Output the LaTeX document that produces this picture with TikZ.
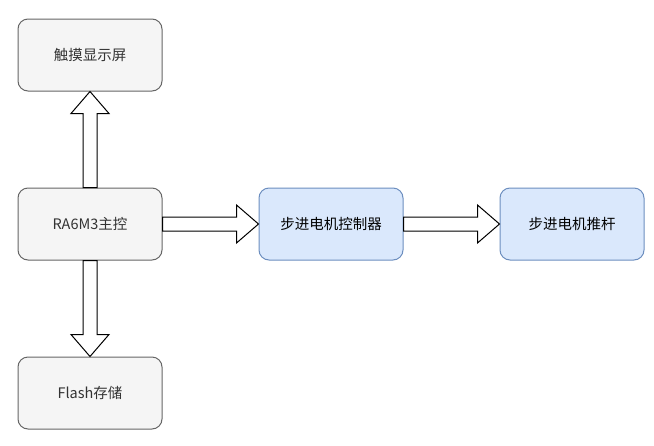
\documentclass[tikz,border=0pt]{standalone}
\usepackage{fontspec}
\setmainfont{Noto Sans CJK SC}
\usetikzlibrary{positioning,calc}

\definecolor{boxgrey}{HTML}{F5F5F5}
\definecolor{linegrey}{HTML}{666666}
\definecolor{textgrey}{HTML}{333333}
\definecolor{boxblue}{HTML}{DAE8FC}
\definecolor{lineblue}{HTML}{6C8EBF}

\tikzset{
  unit/.style={rounded corners=10pt,minimum width=144pt,minimum height=72pt,inner sep=0pt,line width=1pt,font=\fontsize{14.5pt}{17pt}\selectfont},
  greybox/.style={unit,draw=linegrey,fill=boxgrey,text=textgrey},
  bluebox/.style={unit,draw=lineblue,fill=boxblue,text=black},
  blockline/.style={draw=black,fill=white,line width=1pt,line join=miter}
}

% hollow block arrow from #1 to #2
\newcommand{\blockarr}[2]{%
  \path (#1) coordinate (ba-s) (#2) coordinate (ba-t);
  \path ($(ba-t)!22pt!(ba-s)$) coordinate (ba-b);
  \draw[blockline] ($(ba-s)!7pt!90:(ba-t)$) -- ($(ba-b)!7pt!90:(ba-t)$)
    -- ($(ba-b)!19pt!90:(ba-t)$) -- (ba-t) -- ($(ba-b)!19pt!-90:(ba-t)$)
    -- ($(ba-b)!7pt!-90:(ba-t)$) -- ($(ba-s)!7pt!-90:(ba-t)$) -- cycle;
}

\begin{document}
\begin{tikzpicture}[x=1pt,y=1pt,node distance=96pt]
\useasboundingbox (0,-445) rectangle (654,0);

\node[greybox] (mcu) at (90,-224) {RA6M3主控};
\node[greybox,above=of mcu] (touch) {触摸显示屏};
\node[greybox,below=of mcu] (flash) {Flash存储};
\node[bluebox,right=of mcu] (driver) {步进电机控制器};
\node[bluebox,right=of driver] (rod) {步进电机推杆};

\blockarr{mcu.north}{touch.south}
\blockarr{mcu.south}{flash.north}
\blockarr{mcu.east}{driver.west}
\blockarr{driver.east}{rod.west}
\end{tikzpicture}
\end{document}
